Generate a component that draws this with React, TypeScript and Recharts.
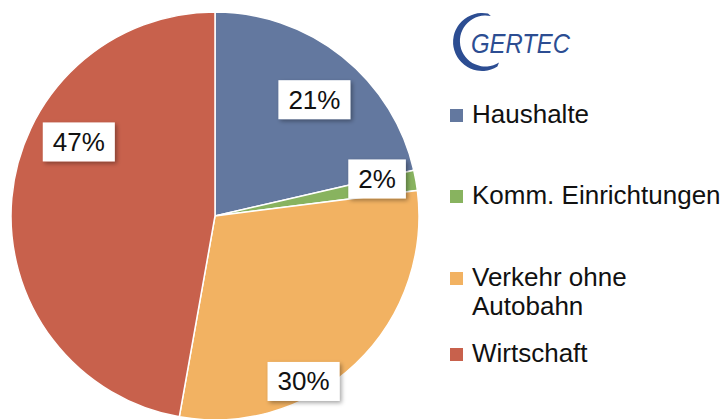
import React from 'react'
import { PieChart, Pie, Cell, Legend } from 'recharts'

const categories = ['Haushalte', 'Komm. Einrichtungen', 'Verkehr ohne Autobahn', 'Wirtschaft']
const shares = [21.4, 1.6, 29.8, 47.2]
const colors = ['#63789f', '#88b35f', '#f2b262', '#c8614c']

// manual label placement like the Excel original: angle shift (deg) and radius factor
const labelAdjust = [
  { da: -2, rf: 0.75 },
  { da: 2.8, rf: 0.815 },
  { da: -15.4, rf: 0.92 },
  { da: -23.5, rf: 0.76 },
]
// legend row tops (px), Excel spaces them unevenly
const legendTops = [100, 181, 263, 339]

const FONT = '"Liberation Sans", Arial, sans-serif'
const RAD = Math.PI / 180

const data = categories.map((name, i) => ({ name, value: shares[i] }))

function textWidth(s: string, size: number) {
  let w = 0
  for (const ch of s) w += ch === '%' ? 0.889 : 0.556
  return w * size
}

function renderLabel(props: any) {
  const { cx, cy, midAngle, outerRadius, index, value } = props
  const adj = labelAdjust[index]
  const ang = midAngle + adj.da
  const r = outerRadius * adj.rf
  const x = cx + Math.cos(-RAD * ang) * r
  const y = cy + Math.sin(-RAD * ang) * r
  const txt = Math.round(value) + '%'
  const w = textWidth(txt, 26) + 20
  const h = 39
  const fid = 'lblshadow' + index
  return (
    <g key={'lbl' + index}>
      <defs>
        <filter id={fid} x="-30%" y="-30%" width="160%" height="160%">
          <feDropShadow dx="2" dy="2" stdDeviation="2" floodColor="#000" floodOpacity="0.35" />
        </filter>
      </defs>
      <rect x={x - w / 2} y={y - h / 2} width={w} height={h} fill="#fff" filter={`url(#${fid})`} />
      <text x={x} y={y + 9} textAnchor="middle" fontSize={26} fontFamily={FONT} fill="#111">
        {txt}
      </text>
    </g>
  )
}

function LegendContent(props: any) {
  const payload = props.payload ?? []
  return (
    <div style={{ position: 'relative', width: 278, height: 419, fontFamily: FONT }}>
      {categories.map((name, i) => {
        const p = payload[i]
        const color = p?.color ?? colors[i]
        return (
          <div key={name} style={{ position: 'absolute', left: 0, top: legendTops[i], display: 'flex', alignItems: 'flex-start' }}>
            <div style={{ width: 13, height: 13, background: color, marginTop: 9, marginRight: 9, flex: 'none' }} />
            <div style={{ fontSize: 26, lineHeight: '29px', color: '#111', width: 254 }}>{p?.value ?? name}</div>
          </div>
        )
      })}
    </div>
  )
}

function Logo() {
  return (
    <svg width={728} height={419} style={{ position: 'absolute', left: 0, top: 0, pointerEvents: 'none' }}>
      <path
        d="M 488 13.6 A 29 29 0 1 0 497.4 66.6 L 499 62.6 A 25.5 25.5 0 1 1 490.8 16.1 Z"
        fill="#2c4d92"
      />
      <text x={471} y={53} fontSize={28} fontStyle="italic" fontFamily={FONT} fill="#2c4d92" textLength={99} lengthAdjust="spacingAndGlyphs">
        GERTEC
      </text>
    </svg>
  )
}

export default function App() {
  return (
    <div style={{ position: 'fixed', left: 0, top: 0, width: 728, height: 419, background: '#fff', overflow: 'hidden' }}>
      <PieChart width={728} height={419} margin={{ top: 0, right: 0, bottom: 0, left: 0 }}>
        <Pie
          data={data}
          dataKey="value"
          nameKey="name"
          cx={215}
          cy={216}
          outerRadius={204}
          startAngle={90}
          endAngle={-270}
          stroke="#fff"
          strokeWidth={1.5}
          label={renderLabel}
          labelLine={false}
          isAnimationActive={false}
        >
          {data.map((d, i) => (
            <Cell key={d.name} fill={colors[i]} />
          ))}
        </Pie>
        <Legend
          layout="vertical"
          align="right"
          verticalAlign="top"
          width={278}
          content={<LegendContent />}
          wrapperStyle={{ position: 'absolute', left: 450, top: 0, width: 278, height: 419 }}
        />
      </PieChart>
      <Logo />
    </div>
  )
}
